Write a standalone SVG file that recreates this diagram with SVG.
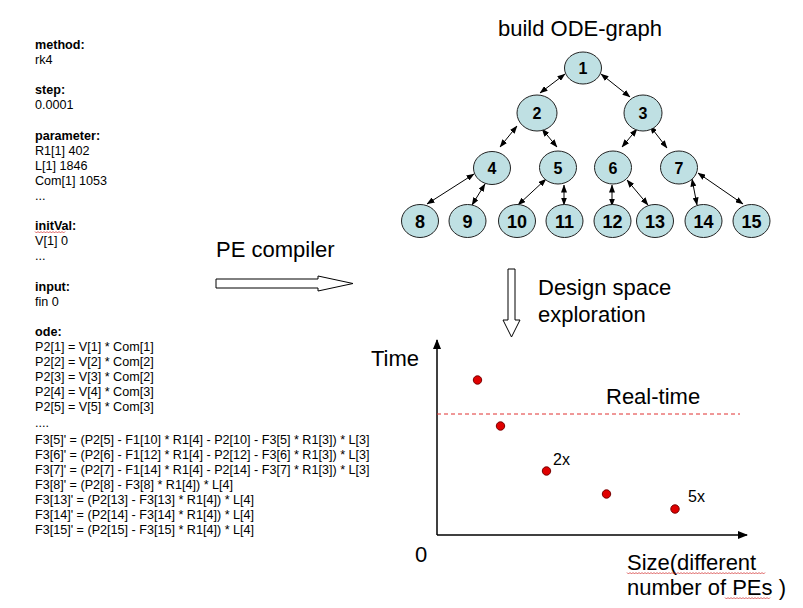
<svg xmlns="http://www.w3.org/2000/svg" width="803" height="608" viewBox="0 0 803 608">
<style>
.t{font-family:"Liberation Sans",Arial,sans-serif;font-size:12.6px;fill:#000}
.b{font-weight:bold}
.big{font-family:"Liberation Sans",Arial,sans-serif;font-size:22px;fill:#000}
.sm{font-family:"Liberation Sans",Arial,sans-serif;font-size:16px;fill:#000}
.node ellipse{fill:#bfe0e3;stroke:#222;stroke-width:1}
.node text{font-family:"Liberation Sans",Arial,sans-serif;font-weight:bold;fill:#000;text-anchor:middle}
.n1 text{font-size:16px}
.n2 text{font-size:18px}
.edge{stroke:#000;stroke-width:1;fill:none;marker-start:url(#ah);marker-end:url(#ah)}
.hollow{fill:#fff;stroke:#000;stroke-width:1}
.axis{stroke:#000;stroke-width:1.5;fill:none;marker-end:url(#axh)}
.dot{fill:#e00000;stroke:#700;stroke-width:1}
.wavy{stroke:#d02020;stroke-width:0.7;fill:none}
</style>
<defs>
<marker id="ah" markerWidth="8" markerHeight="6" refX="7.5" refY="3" orient="auto-start-reverse" markerUnits="userSpaceOnUse">
<path d="M0,0 L8,3 L0,6 Z" fill="#000"/>
</marker>
<marker id="axh" markerWidth="10" markerHeight="8" refX="9" refY="4" orient="auto" markerUnits="userSpaceOnUse">
<path d="M0,0 L10,4 L0,8 Z" fill="#000"/>
</marker>
</defs>
<rect width="803" height="608" fill="#fff"/>

<g id="spec">
<text class="t b" x="35" y="49">method:</text>
<text class="t" x="35" y="64">rk4</text>
<text class="t b" x="35" y="94">step:</text>
<text class="t" x="35" y="109">0.0001</text>
<text class="t b" x="35" y="140">parameter:</text>
<text class="t" x="35" y="155">R1[1] 402</text>
<text class="t" x="35" y="170">L[1] 1846</text>
<text class="t" x="35" y="185">Com[1] 1053</text>
<text class="t" x="35" y="200">...</text>
<text class="t b" x="35" y="230">initVal:</text>
<path class="wavy" d="M35,231.5 l1.5,1.5 l1.5,-1.5 l1.5,1.5 l1.5,-1.5 l1.5,1.5 l1.5,-1.5 l1.5,1.5 l1.5,-1.5 l1.5,1.5 l1.5,-1.5 l1.5,1.5 l1.5,-1.5 l1.5,1.5 l1.5,-1.5 l1.5,1.5 l1.5,-1.5 l1.5,1.5 l1.5,-1.5 l1.5,1.5 l1.5,-1.5"/>
<text class="t" x="35" y="245">V[1] 0</text>
<text class="t" x="35" y="260">...</text>
<text class="t b" x="35" y="291">input:</text>
<text class="t" x="35" y="306">fin 0</text>
<text class="t b" x="35" y="336">ode:</text>
<text class="t" x="35" y="351">P2[1] = V[1] * Com[1]</text>
<text class="t" x="35" y="366">P2[2] = V[2] * Com[2]</text>
<text class="t" x="35" y="381">P2[3] = V[3] * Com[2]</text>
<text class="t" x="35" y="396">P2[4] = V[4] * Com[3]</text>
<text class="t" x="35" y="411">P2[5] = V[5] * Com[3]</text>
<text class="t" x="35" y="427">....</text>
<text class="t" x="35" y="444">F3[5]' = (P2[5] - F1[10] * R1[4] - P2[10] - F3[5] * R1[3]) * L[3]</text>
<text class="t" x="35" y="459">F3[6]' = (P2[6] - F1[12] * R1[4] - P2[12] - F3[6] * R1[3]) * L[3]</text>
<text class="t" x="35" y="474">F3[7]' = (P2[7] - F1[14] * R1[4] - P2[14] - F3[7] * R1[3]) * L[3]</text>
<text class="t" x="35" y="489">F3[8]' = (P2[8] - F3[8] * R1[4]) * L[4]</text>
<text class="t" x="35" y="504">F3[13]' = (P2[13] - F3[13] * R1[4]) * L[4]</text>
<text class="t" x="35" y="519">F3[14]' = (P2[14] - F3[14] * R1[4]) * L[4]</text>
<text class="t" x="35" y="534">F3[15]' = (P2[15] - F3[15] * R1[4]) * L[4]</text>
</g>

<g id="pe-compiler">
<text class="big" x="216" y="257">PE compiler</text>
<path class="hollow" d="M216,279 L318,279 L318,276 L353,283.5 L318,291 L318,288 L216,288 Z"/>
</g>

<g id="title">
<text class="big" x="498" y="36">build ODE-graph</text>
</g>

<g id="connectors">
<line class="edge" x1="565" y1="74" x2="540" y2="93"/>
<line class="edge" x1="601" y1="74" x2="630" y2="97"/>
<line class="edge" x1="517" y1="126" x2="500" y2="147"/>
<line class="edge" x1="542" y1="129" x2="557" y2="147"/>
<line class="edge" x1="637" y1="129" x2="622" y2="147"/>
<line class="edge" x1="650" y1="126" x2="667" y2="148"/>
<line class="edge" x1="474" y1="174" x2="427" y2="204"/>
<line class="edge" x1="485" y1="184" x2="472" y2="205"/>
<line class="edge" x1="546" y1="179" x2="518" y2="205"/>
<line class="edge" x1="564" y1="185" x2="564" y2="205"/>
<line class="edge" x1="612" y1="185" x2="612" y2="206"/>
<line class="edge" x1="627" y1="180" x2="648" y2="205"/>
<line class="edge" x1="692" y1="179" x2="697" y2="205"/>
<line class="edge" x1="698" y1="173" x2="743" y2="204"/>
</g>

<g id="node1" class="node n1"><ellipse cx="583" cy="68" rx="18.5" ry="16"/><text x="583" y="74">1</text></g>
<g id="node2" class="node n1"><ellipse cx="537" cy="113" rx="20" ry="18"/><text x="537" y="119">2</text></g>
<g id="node3" class="node n1"><ellipse cx="643" cy="113" rx="19" ry="18"/><text x="643" y="119">3</text></g>
<g id="node4" class="node n1"><ellipse cx="492" cy="168" rx="18.5" ry="16.5"/><text x="492" y="174">4</text></g>
<g id="node5" class="node n1"><ellipse cx="558" cy="167.5" rx="18.5" ry="16.5"/><text x="558" y="173.5">5</text></g>
<g id="node6" class="node n1"><ellipse cx="613" cy="167.5" rx="18.5" ry="16.5"/><text x="613" y="173.5">6</text></g>
<g id="node7" class="node n1"><ellipse cx="679" cy="167.5" rx="18.5" ry="16.5"/><text x="679" y="173.5">7</text></g>
<g id="node8" class="node n2"><ellipse cx="420" cy="221" rx="18.5" ry="16.5"/><text x="420" y="228">8</text></g>
<g id="node9" class="node n2"><ellipse cx="467.5" cy="221" rx="18.5" ry="16.5"/><text x="467.5" y="228">9</text></g>
<g id="node10" class="node n2"><ellipse cx="517" cy="221" rx="18.5" ry="16.5"/><text x="517" y="228">10</text></g>
<g id="node11" class="node n2"><ellipse cx="564.5" cy="221" rx="18.5" ry="16.5"/><text x="564.5" y="228">11</text></g>
<g id="node12" class="node n2"><ellipse cx="612.5" cy="221" rx="18.5" ry="16.5"/><text x="612.5" y="228">12</text></g>
<g id="node13" class="node n2"><ellipse cx="655" cy="221" rx="18.5" ry="16.5"/><text x="655" y="228">13</text></g>
<g id="node14" class="node n2"><ellipse cx="703.5" cy="221" rx="18.5" ry="16.5"/><text x="703.5" y="228">14</text></g>
<g id="node15" class="node n2"><ellipse cx="751.5" cy="221" rx="18.5" ry="16.5"/><text x="751.5" y="228">15</text></g>

<g id="dse">
<path class="hollow" d="M508,269 L515,269 L515,320 L520,320 L511.5,337 L503,320 L508,320 Z"/>
<text class="big" x="538" y="295">Design space</text>
<text class="big" x="538" y="322">exploration</text>
</g>

<g id="plot">
<line class="axis" x1="437" y1="535" x2="437" y2="340"/>
<line class="axis" x1="437" y1="535" x2="747" y2="535"/>
<line x1="437" y1="414" x2="740" y2="414" stroke="#e03030" stroke-width="1" stroke-dasharray="4,3"/>
<text class="big" x="371" y="366">Time</text>
<text class="big" x="606" y="404">Real-time</text>
<text class="big" x="415" y="562">0</text>
<text class="big" x="627" y="570">Size(different</text>
<text class="big" x="627" y="595">number of PEs )</text>
<path class="wavy" d="M627,572.5 l1.5,1.5 l1.5,-1.5 l1.5,1.5 l1.5,-1.5 l1.5,1.5 l1.5,-1.5 l1.5,1.5 l1.5,-1.5 l1.5,1.5 l1.5,-1.5 l1.5,1.5 l1.5,-1.5 l1.5,1.5 l1.5,-1.5 l1.5,1.5 l1.5,-1.5 l1.5,1.5 l1.5,-1.5 l1.5,1.5 l1.5,-1.5 l1.5,1.5 l1.5,-1.5 l1.5,1.5 l1.5,-1.5 l1.5,1.5 l1.5,-1.5 l1.5,1.5 l1.5,-1.5 l1.5,1.5 l1.5,-1.5 l1.5,1.5 l1.5,-1.5 l1.5,1.5 l1.5,-1.5 l1.5,1.5 l1.5,-1.5 l1.5,1.5 l1.5,-1.5 l1.5,1.5 l1.5,-1.5 l1.5,1.5 l1.5,-1.5 l1.5,1.5 l1.5,-1.5 l1.5,1.5 l1.5,-1.5 l1.5,1.5 l1.5,-1.5 l1.5,1.5 l1.5,-1.5 l1.5,1.5 l1.5,-1.5 l1.5,1.5 l1.5,-1.5 l1.5,1.5 l1.5,-1.5 l1.5,1.5 l1.5,-1.5 l1.5,1.5 l1.5,-1.5 l1.5,1.5 l1.5,-1.5 l1.5,1.5 l1.5,-1.5 l1.5,1.5 l1.5,-1.5 l1.5,1.5 l1.5,-1.5 l1.5,1.5 l1.5,-1.5 l1.5,1.5 l1.5,-1.5 l1.5,1.5 l1.5,-1.5 l1.5,1.5 l1.5,-1.5 l1.5,1.5 l1.5,-1.5 l1.5,1.5 l1.5,-1.5 l1.5,1.5 l1.5,-1.5 l1.5,1.5 l1.5,-1.5 l1.5,1.5 l1.5,-1.5 l1.5,1.5 l1.5,-1.5 l1.5,1.5 l1.5,-1.5 l1.5,1.5 l1.5,-1.5"/>
<path class="wavy" d="M725,597.5 l1.5,1.5 l1.5,-1.5 l1.5,1.5 l1.5,-1.5 l1.5,1.5 l1.5,-1.5 l1.5,1.5 l1.5,-1.5 l1.5,1.5 l1.5,-1.5 l1.5,1.5 l1.5,-1.5 l1.5,1.5 l1.5,-1.5 l1.5,1.5 l1.5,-1.5 l1.5,1.5 l1.5,-1.5 l1.5,1.5 l1.5,-1.5 l1.5,1.5 l1.5,-1.5 l1.5,1.5 l1.5,-1.5 l1.5,1.5 l1.5,-1.5 l1.5,1.5 l1.5,-1.5 l1.5,1.5 l1.5,-1.5"/>
<circle class="dot" cx="477.5" cy="380" r="4.2"/>
<circle class="dot" cx="500.5" cy="426" r="4.2"/>
<circle class="dot" cx="546.5" cy="471" r="4.2"/>
<circle class="dot" cx="606.5" cy="494" r="4.2"/>
<circle class="dot" cx="675" cy="509" r="4.2"/>
<text class="sm" x="553" y="465">2x</text>
<text class="sm" x="688" y="502">5x</text>
</g>
</svg>
